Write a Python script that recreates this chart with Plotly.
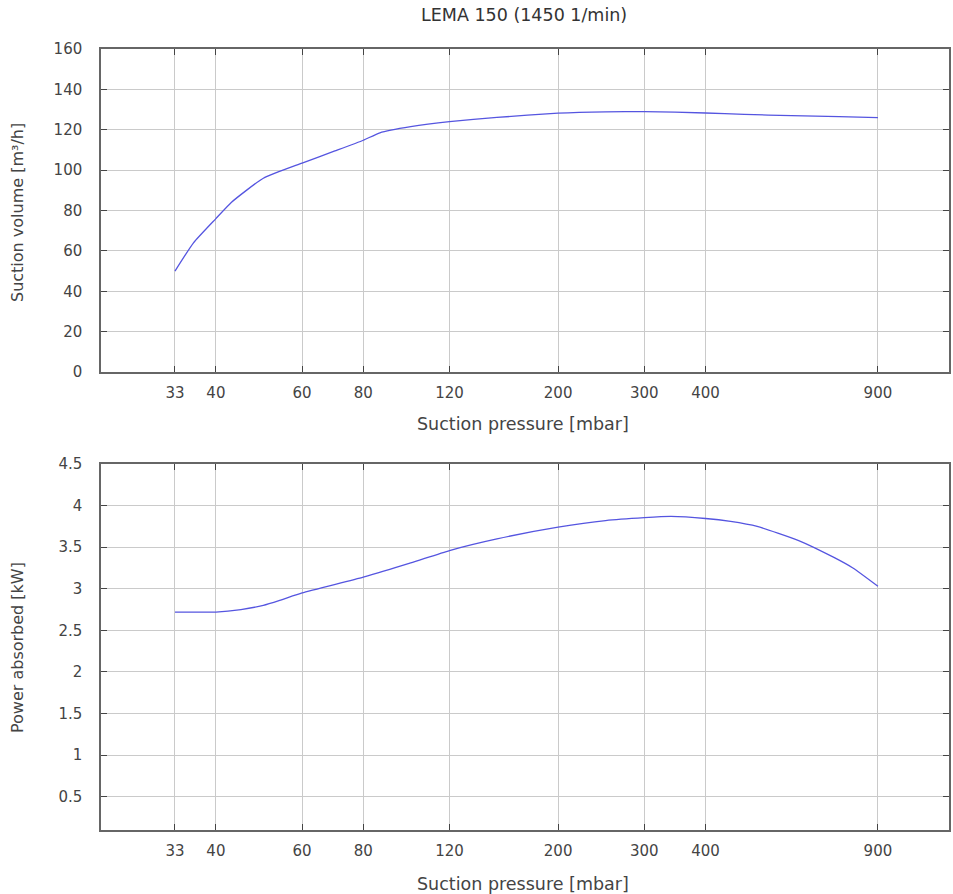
import plotly.graph_objects as go

# Data
pressure_mbar = [33, 36, 40, 43, 50, 60, 70, 80, 86.5, 100, 120, 150, 200, 250, 300, 400, 480, 600, 750, 900]
suction_volume = [50, 64, 76, 84, 96, 103.5, 109.5, 114.8, 118.5, 121.5, 124, 126.1, 128.2, 128.9, 129, 128.3, 127.6, 127, 126.5, 126]

power_pressure = [33, 40, 45, 50, 54, 60, 80, 100, 120, 150, 200, 250, 300, 340, 400, 450, 510, 620, 730, 800, 900]
power_absorbed = [2.72, 2.72, 2.75, 2.8, 2.86, 2.95, 3.14, 3.31, 3.46, 3.6, 3.74, 3.82, 3.855, 3.87, 3.845, 3.81, 3.75, 3.58, 3.38, 3.25, 3.03]

x_tickvals = [33, 40, 60, 80, 120, 200, 300, 400, 900]
x_ticktext = ["33", "40", "60", "80", "120", "200", "300", "400", "900"]
y1_tickvals = [0, 20, 40, 60, 80, 100, 120, 140, 160]
y2_tickvals = [0.5, 1, 1.5, 2, 2.5, 3, 3.5, 4, 4.5]
y2_ticktext = ["0.5", "1", "1.5", "2", "2.5", "3", "3.5", "4", "4.5"]

W, H = 953, 894
FONT = "DejaVu Sans, Liberation Sans, Arial, sans-serif"
TXT = "#444444"
LINE = "#5555e0"

def px_x(p):
    return p / W

def px_y(p):
    return 1 - p / H

fig = go.Figure()
fig.add_trace(go.Scatter(x=pressure_mbar, y=suction_volume, mode="lines",
                         line=dict(color=LINE, width=1.3, shape="spline", smoothing=0.5),
                         xaxis="x", yaxis="y", showlegend=False))
fig.add_trace(go.Scatter(x=power_pressure, y=power_absorbed, mode="lines",
                         line=dict(color=LINE, width=1.3, shape="spline", smoothing=0.5),
                         xaxis="x2", yaxis="y2", showlegend=False))

xdom = [px_x(101), px_x(949)]
common_x = dict(type="log", range=[1.3674, 3.0994], tickvals=x_tickvals, ticktext=x_ticktext,
                showgrid=True, gridcolor="#cacaca", gridwidth=1,
                showline=True, linecolor="#666666", linewidth=1.5, mirror="allticks",
                ticks="inside", ticklen=6, tickcolor="#444444",
                tickfont=dict(family=FONT, size=15, color=TXT),
                ticklabelstandoff=6, automargin=False, zeroline=False, fixedrange=True)
common_y = dict(showgrid=True, gridcolor="#cacaca", gridwidth=1,
                showline=True, linecolor="#666666", linewidth=1.5, mirror="allticks",
                ticks="inside", ticklen=6, tickcolor="#444444",
                tickfont=dict(family=FONT, size=15, color=TXT),
                ticklabelstandoff=14, automargin=False, zeroline=False, fixedrange=True)

def ann(text, x, y, size, angle=0, color=TXT):
    return dict(text=text, x=px_x(x), y=px_y(y), xref="paper", yref="paper",
                xanchor="center", yanchor="middle", showarrow=False, textangle=angle,
                font=dict(family=FONT, size=size, color=color))

fig.update_layout(
    width=W, height=H,
    margin=dict(l=0, r=0, t=0, b=0),
    paper_bgcolor="white", plot_bgcolor="white",
    xaxis=dict(domain=xdom, anchor="y", **common_x),
    yaxis=dict(domain=[px_y(372), px_y(49)], anchor="x", range=[0, 160], tickvals=y1_tickvals, **common_y),
    xaxis2=dict(domain=xdom, anchor="y2", **common_x),
    yaxis2=dict(domain=[px_y(830), px_y(464)], anchor="x2", range=[0.1, 4.5],
                tickvals=y2_tickvals, ticktext=y2_ticktext, **common_y),
    annotations=[
        ann("LEMA 150 (1450 1/min)", 524, 15, 17.5, color="#333333"),
        ann("Suction pressure [mbar]", 523, 424, 17.5),
        ann("Suction pressure [mbar]", 523, 884, 17.5),
        ann("Suction volume [m³/h]", 17, 213, 16, angle=-90),
        ann("Power absorbed [kW]", 17, 648, 16, angle=-90),
    ],
)

fig.write_html("out.html", config={"displayModeBar": False},
               post_script="document.body.style.margin='0';document.body.style.overflow='hidden';")
